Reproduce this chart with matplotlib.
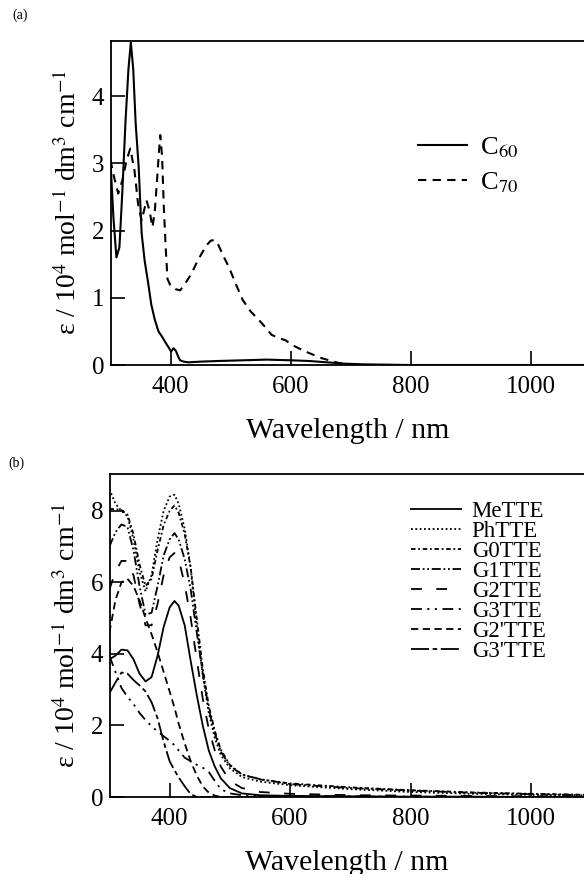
import matplotlib
matplotlib.use("Agg")
import matplotlib.pyplot as plt

plt.rcParams["font.family"] = ["Liberation Serif", "DejaVu Serif"]
plt.rcParams["mathtext.fontset"] = "stix"

# ---- panel (a): C60 / C70 absorption ----
c60_wl = [300, 305, 310, 315, 320, 325, 330, 334, 338, 342, 347, 352, 357, 363, 368, 374,
          380, 386, 392, 397, 401, 405, 409, 413, 416, 422, 430, 450, 480, 520, 560, 600,
          630, 660, 690, 720, 800, 1100]
c60_eps = [3.05, 2.2, 1.6, 1.75, 2.6, 3.6, 4.4, 4.8, 4.4, 3.6, 2.95, 1.96, 1.55, 1.21, 0.9, 0.67,
           0.5, 0.42, 0.33, 0.26, 0.2, 0.25, 0.21, 0.12, 0.07, 0.05, 0.04, 0.05, 0.06, 0.07, 0.08, 0.07,
           0.06, 0.04, 0.02, 0.01, 0.0, 0.0]

c70_wl = [300, 306, 313, 320, 327, 333, 340, 346, 352, 356, 360, 365, 370, 374, 378, 381, 383,
          386, 389, 392, 395, 400, 408, 416, 425, 435, 445, 452, 460, 467, 473, 480, 488, 497,
          508, 520, 533, 547, 558, 568, 580, 591, 602, 613, 630, 652, 668, 680, 690, 700]
c70_eps = [3.05, 2.8, 2.55, 2.75, 3.05, 3.22, 2.9, 2.4, 2.15, 2.3, 2.45, 2.3, 2.05, 2.3, 2.8, 3.2, 3.42,
           3.1, 2.32, 1.75, 1.28, 1.18, 1.13, 1.11, 1.22, 1.36, 1.55, 1.66, 1.78, 1.85, 1.86, 1.78, 1.62, 1.46,
           1.22, 0.97, 0.8, 0.67, 0.56, 0.45, 0.4, 0.37, 0.3, 0.25, 0.18, 0.1, 0.06, 0.03, 0.01, 0.0]

# ---- panel (b): TTE derivatives ----
wl_b = [300, 310, 320, 330, 340, 350, 360, 370, 380, 390, 400, 408, 415, 425, 435, 445,
        455, 465, 475, 485, 500, 520, 550, 600, 700, 800, 900, 1000, 1100]

me_eps = [3.85, 3.95, 4.12, 4.1, 3.85, 3.45, 3.23, 3.35, 3.95, 4.75, 5.3, 5.48, 5.35, 4.8, 3.8, 2.85,
          2.0, 1.3, 0.85, 0.52, 0.25, 0.1, 0.05, 0.03, 0.02, 0.01, 0.01, 0.0, 0.0]
ph_eps = [8.6, 8.2, 8.0, 7.85, 7.2, 6.3, 5.75, 6.2, 7.2, 8.0, 8.4, 8.45, 8.2, 7.5, 6.4, 4.8,
          3.4, 2.35, 1.65, 1.18, 0.8, 0.56, 0.43, 0.33, 0.22, 0.14, 0.09, 0.06, 0.04]
g0_eps = [8.05, 8.05, 8.02, 7.9, 7.35, 6.5, 5.9, 6.1, 6.9, 7.6, 8.0, 8.15, 7.95, 7.35, 6.4, 5.0,
          3.6, 2.55, 1.85, 1.32, 0.9, 0.63, 0.49, 0.38, 0.27, 0.19, 0.13, 0.09, 0.06]
g1_eps = [7.0, 7.4, 7.62, 7.55, 6.9, 5.9, 5.1, 5.15, 5.9, 6.75, 7.2, 7.38, 7.2, 6.65, 5.8, 4.6,
          3.45, 2.45, 1.78, 1.27, 0.87, 0.63, 0.5, 0.36, 0.25, 0.18, 0.12, 0.08, 0.05]
g2_eps = [5.8, 6.3, 6.6, 6.6, 6.2, 5.4, 4.8, 4.8, 5.4, 6.2, 6.7, 6.82, 6.65, 5.95, 5.0, 3.85,
          2.75, 1.9, 1.3, 0.85, 0.45, 0.25, 0.14, 0.09, 0.05, 0.04, 0.03, 0.02, 0.02]
g3_eps = [3.95, 3.5, 3.05, 2.8, 2.6, 2.35, 2.15, 1.98, 1.83, 1.7, 1.57, 1.45, 1.3, 1.1, 1.0, 0.9,
          0.82, 0.7, 0.45, 0.22, 0.1, 0.05, 0.03, 0.03, 0.02, 0.01, 0.0, 0.0, 0.0]
g2p_eps = [4.6, 5.5, 6.0, 6.1, 5.9, 5.5, 5.0, 4.55, 4.05, 3.5, 2.95, 2.5, 2.05, 1.5, 1.0, 0.6,
           0.3, 0.12, 0.04, 0.0, 0.0, 0.0, 0.0, 0.0, 0.0, 0.0, 0.0, 0.0, 0.0]
g3p_eps = [2.9, 3.2, 3.48, 3.45, 3.27, 3.12, 2.95, 2.65, 2.2, 1.55, 1.0, 0.75, 0.55, 0.3, 0.08, 0.0,
           0.0, 0.0, 0.0, 0.0, 0.0, 0.0, 0.0, 0.0, 0.0, 0.0, 0.0, 0.0, 0.0]

names_b = ["MeTTE", "PhTTE", "G0TTE", "G1TTE", "G2TTE", "G3TTE", "G2'TTE", "G3'TTE"]
series_b = [me_eps, ph_eps, g0_eps, g1_eps, g2_eps, g3_eps, g2p_eps, g3p_eps]
styles_b = ["-", (0, (1, 1.4)), (0, (2.5, 1.5, 1, 1.5)), (0, (5, 1.5, 1, 1.5, 1, 1.5)),
            (0, (6, 8)), (0, (6, 3, 1.2, 3, 1.2, 3)), (0, (4, 2.5)), (0, (10, 2, 2.5, 2))]

fig = plt.figure(figsize=(5.84, 8.74), dpi=100)
ax1 = fig.add_axes([111 / 584, 1 - 365 / 874, 1 - 111 / 584, (365 - 41) / 874])
ax2 = fig.add_axes([110 / 584, 1 - 797 / 874, 1 - 110 / 584, (797 - 474) / 874])

ax1.plot(c60_wl, c60_eps, color="black", lw=1.5, ls="-", label=r"C$_{60}$")
ax1.plot(c70_wl, c70_eps, color="black", lw=1.5, ls=(0, (4, 3)), label=r"C$_{70}$")
ax1.set_ylim(0, 4.82)
ax1.set_yticks([0, 1, 2, 3, 4])

for name, eps, st in zip(names_b, series_b, styles_b):
    ax2.plot(wl_b, eps, color="black", lw=1.3, ls=st, label=name)
ax2.set_ylim(0, 9.03)
ax2.set_yticks([0, 2, 4, 6, 8])

ylab = "ε / 10$^4$ mol$^{-1}$ dm$^3$ cm$^{-1}$"
for ax in (ax1, ax2):
    ax.set_xlim(301, 1088)
    ax.set_xticks([400, 600, 800, 1000])
    ax.tick_params(direction="in", length=10, width=1.2, labelsize=18)
    ax.tick_params(axis="x", pad=8)
    ax.tick_params(axis="y", pad=5)
    ax.spines["right"].set_visible(False)
    for s in ("left", "bottom", "top"):
        ax.spines[s].set_linewidth(1.3)
    ax.set_xlabel("Wavelength / nm", fontsize=21.5, labelpad=14)
    ax.set_ylabel(ylab, fontsize=20, labelpad=7)

ax1.legend(loc="upper left", bbox_to_anchor=(0.649, 0.71), frameon=False, fontsize=19,
           handlelength=1.86, handletextpad=0.5, labelspacing=0.42, borderpad=0,
           borderaxespad=0)
ax2.legend(loc="upper left", bbox_to_anchor=(0.635, 0.915), frameon=False, fontsize=16.5,
           handlelength=2.2, handletextpad=0.45, labelspacing=-0.05, borderpad=0,
           borderaxespad=0)

fig.text(12 / 584, 1 - 15 / 874, "(a)", fontsize=10, va="center")
fig.text(8 / 584, 1 - 463 / 874, "(b)", fontsize=10, va="center")

fig.savefig("out.png", dpi=100)
